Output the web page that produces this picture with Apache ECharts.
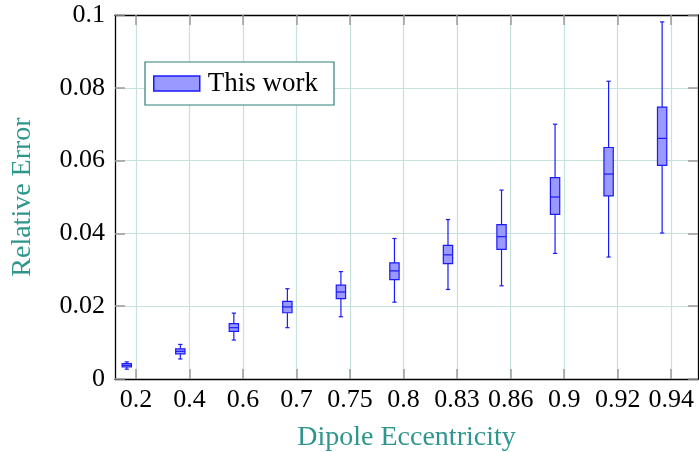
<!DOCTYPE html>
<html>
<head>
<meta charset="utf-8">
<script src="https://cdn.jsdelivr.net/npm/echarts@6/dist/echarts.min.js"></script>
<style>
html,body{margin:0;padding:0;background:#fff;}
#chart{width:699px;height:452px;}
</style>
</head>
<body>
<div id="chart"></div>
<script>
// ---- data ----
const categories = ['0.2','0.4','0.6','0.7','0.75','0.8','0.83','0.86','0.9','0.92','0.94'];
const whiskerLow  = [0.0027, 0.0055, 0.0107, 0.0141, 0.0171, 0.0211, 0.0246, 0.0256, 0.0345, 0.0335, 0.0401];
const quartile1   = [0.0033, 0.0069, 0.0131, 0.0182, 0.0221, 0.0273, 0.0317, 0.0356, 0.0452, 0.0503, 0.0587];
const medians     = [0.0037, 0.0076, 0.0141, 0.0198, 0.0239, 0.0297, 0.0341, 0.0391, 0.0500, 0.0563, 0.0661];
const quartile3   = [0.0042, 0.0083, 0.0152, 0.0213, 0.0258, 0.0319, 0.0367, 0.0424, 0.0553, 0.0636, 0.0747];
const whiskerHigh = [0.0047, 0.0095, 0.0181, 0.0248, 0.0295, 0.0386, 0.0438, 0.0519, 0.0700, 0.0818, 0.0981];
const yTicks = [0, 0.02, 0.04, 0.06, 0.08, 0.1];
const seriesName = 'This work';

const FONT = 'Liberation Serif';
const TEAL = '#2e968c';
const GRID = '#c6e2de';
const BLUE = '#1a1aff';
const FILL = '#9999ff';
const TICKC = '#9a9a9a';

const tickIdx = categories.map((c, i) => i);
const boxData = categories.map((c, i) => [i, whiskerLow[i], quartile1[i], medians[i], quartile3[i], whiskerHigh[i]]);

const BOX_SHIFT = -0.17;   // boxes sit slightly left of their tick
const BOX_FRAC = 0.174;    // box width as fraction of one unit
const CAP_FRAC = 0.08;

const chart = echarts.init(document.getElementById('chart'), null, {renderer: 'canvas'});

function renderBox(params, api) {
  const x = api.value(0) + BOX_SHIFT;
  const lo = api.coord([x, api.value(1)]);
  const q1 = api.coord([x, api.value(2)]);
  const md = api.coord([x, api.value(3)]);
  const q3 = api.coord([x, api.value(4)]);
  const hi = api.coord([x, api.value(5)]);
  const unit = api.size([1, 0])[0];
  const bw = unit * BOX_FRAC, cw = unit * CAP_FRAC;
  const cx = lo[0];
  const ls = {stroke: BLUE, lineWidth: 1.2};
  return {
    type: 'group',
    children: [
      {type: 'line', shape: {x1: cx, y1: hi[1], x2: cx, y2: q3[1]}, style: ls},
      {type: 'line', shape: {x1: cx, y1: q1[1], x2: cx, y2: lo[1]}, style: ls},
      {type: 'line', shape: {x1: cx - cw/2, y1: hi[1], x2: cx + cw/2, y2: hi[1]}, style: ls},
      {type: 'line', shape: {x1: cx - cw/2, y1: lo[1], x2: cx + cw/2, y2: lo[1]}, style: ls},
      {type: 'rect', shape: {x: cx - bw/2, y: q3[1], width: bw, height: q1[1] - q3[1]},
        style: {fill: FILL, stroke: BLUE, lineWidth: 1.2}},
      {type: 'line', shape: {x1: cx - bw/2, y1: md[1], x2: cx + bw/2, y2: md[1]}, style: ls}
    ]
  };
}

const xCommon = {
  type: 'value', min: -0.39, max: 10.5,
  axisLine: {show: true, onZero: false, lineStyle: {color: '#000', width: 1.3}},
  axisTick: {show: true, inside: true, length: 10, customValues: tickIdx, lineStyle: {color: TICKC, width: 1.5}},
};
const yCommon = {
  type: 'value', min: 0, max: 0.1, interval: 0.02,
  axisLine: {show: true, onZero: false, lineStyle: {color: '#000', width: 1.3}},
  axisTick: {show: true, inside: true, length: 10, lineStyle: {color: TICKC, width: 1.5}},
};

chart.setOption({
  animation: false,
  backgroundColor: '#fff',
  grid: {left: 115, right: 1, top: 15, bottom: 73, containLabel: false, outerBoundsMode: 'none'},
  legend: {
    show: true,
    left: 145, top: 62,
    orient: 'horizontal',
    backgroundColor: '#fff',
    borderColor: '#2f7f77', borderWidth: 1.2, borderRadius: 0,
    padding: [6.5, 16, 6.5, 8],
    itemWidth: 46, itemHeight: 15,
    textStyle: {fontFamily: FONT, fontSize: 27, color: '#000', lineHeight: 30, padding: [0, 0, 0, 3]},
    data: [{name: seriesName, icon: 'rect', itemStyle: {color: FILL, borderColor: BLUE, borderWidth: 1.5}}]
  },
  xAxis: [
    Object.assign({}, xCommon, {
      position: 'bottom',
      name: 'Dipole Eccentricity', nameLocation: 'middle', nameGap: 45,
      nameTextStyle: {fontFamily: FONT, fontSize: 28, color: TEAL},
      axisLabel: {show: true, customValues: tickIdx, margin: 8, fontFamily: FONT, fontSize: 26, color: '#000',
        formatter: v => categories[Math.round(v)] || ''},
      splitLine: {show: true, lineStyle: {color: GRID, width: 1.2}}
    }),
    Object.assign({}, xCommon, {
      position: 'top', axisLabel: {show: false}, splitLine: {show: false}
    })
  ],
  yAxis: [
    Object.assign({}, yCommon, {
      position: 'left',
      name: 'Relative Error', nameLocation: 'middle', nameGap: 78,
      nameTextStyle: {fontFamily: FONT, fontSize: 28, color: TEAL},
      axisLabel: {show: true, margin: 10, fontFamily: FONT, fontSize: 26, color: '#000',
        customValues: yTicks,
        formatter: v => String(Math.round(v * 100) / 100)},
      splitLine: {show: true, lineStyle: {color: GRID, width: 1.2}}
    }),
    Object.assign({}, yCommon, {
      position: 'right', axisLabel: {show: false}, splitLine: {show: false}
    })
  ],
  series: [{
    name: seriesName,
    type: 'custom',
    xAxisIndex: 0, yAxisIndex: 0,
    renderItem: renderBox,
    encode: {x: 0, y: [1, 2, 3, 4, 5]},
    itemStyle: {color: FILL, borderColor: BLUE},
    data: boxData,
    z: 3
  }]
});
</script>
</body>
</html>
